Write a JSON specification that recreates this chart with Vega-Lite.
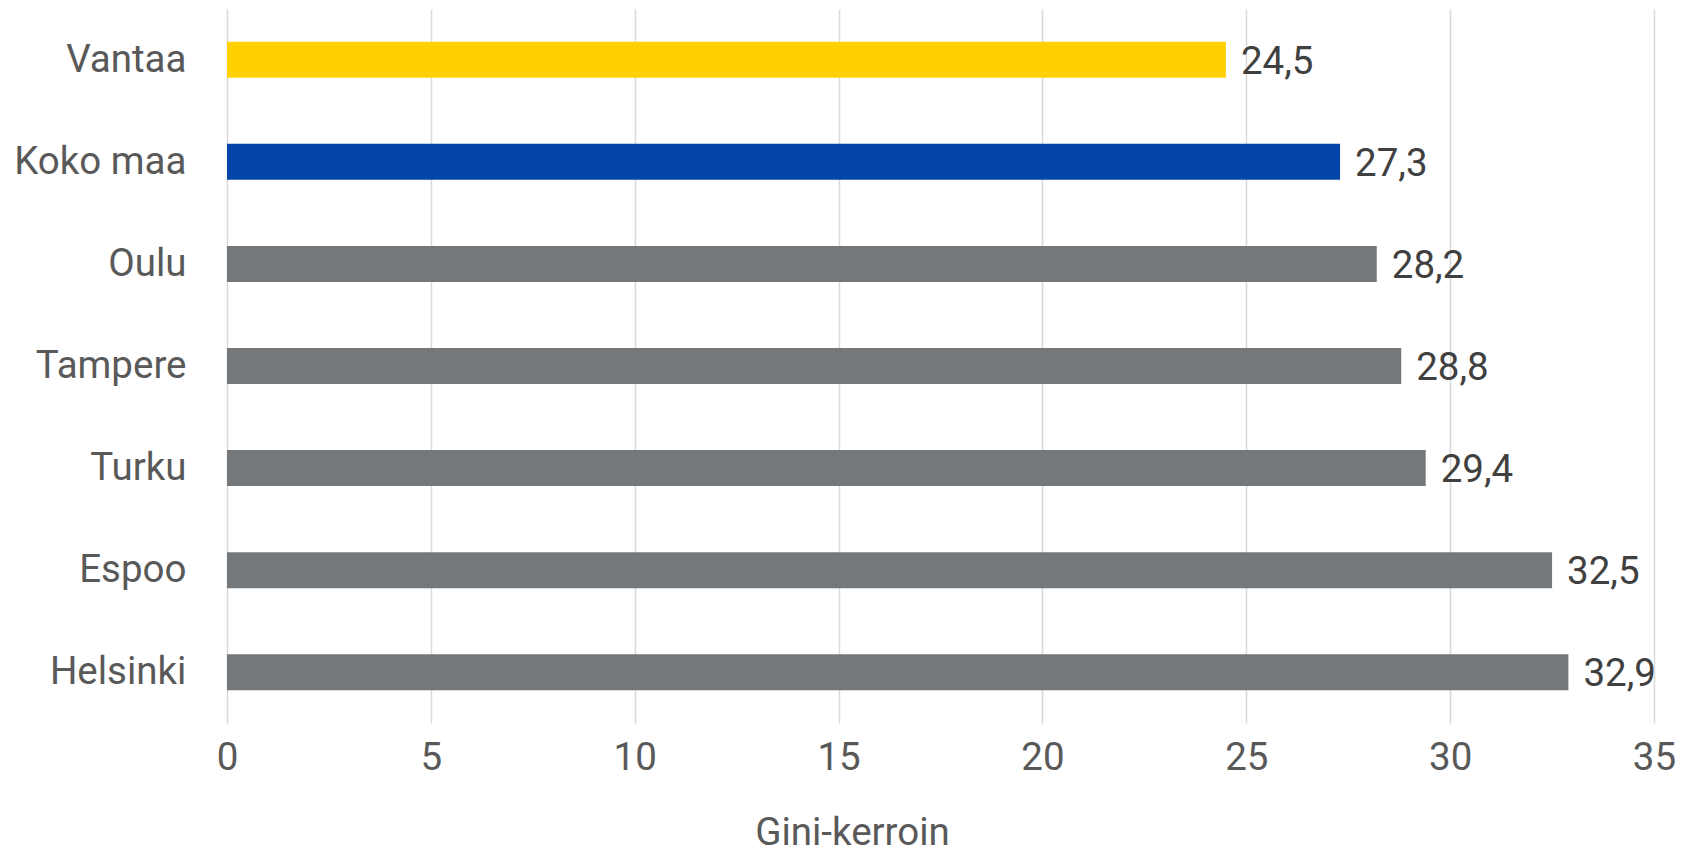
{
  "$schema": "https://vega.github.io/schema/vega-lite/v6.json",
  "autosize": "none",
  "width": 1427,
  "height": 714,
  "padding": {"left": 227, "top": 9, "right": 32, "bottom": 132},
  "background": "white",
  "config": {
    "view": {"stroke": null},
    "font": "Roboto",
    "locale": {
      "number": {"decimal": ",", "thousands": " ", "grouping": [3], "currency": ["", " €"]}
    }
  },
  "data": {
    "values": [
      {"alue": "Vantaa", "gini": 24.5, "ryhma": "Vantaa"},
      {"alue": "Koko maa", "gini": 27.3, "ryhma": "Koko maa"},
      {"alue": "Oulu", "gini": 28.2, "ryhma": "Muu"},
      {"alue": "Tampere", "gini": 28.8, "ryhma": "Muu"},
      {"alue": "Turku", "gini": 29.4, "ryhma": "Muu"},
      {"alue": "Espoo", "gini": 32.5, "ryhma": "Muu"},
      {"alue": "Helsinki", "gini": 32.9, "ryhma": "Muu"}
    ]
  },
  "encoding": {
    "y": {
      "field": "alue",
      "type": "nominal",
      "sort": ["Vantaa", "Koko maa", "Oulu", "Tampere", "Turku", "Espoo", "Helsinki"],
      "scale": {"paddingInner": 0.647, "paddingOuter": 0.32},
      "axis": {
        "title": null,
        "domain": false,
        "ticks": false,
        "labelPadding": 41,
        "labelFontSize": 38.5,
        "labelColor": "#595959",
        "labelFont": "Roboto"
      }
    },
    "x": {
      "field": "gini",
      "type": "quantitative",
      "scale": {"domain": [0, 35], "nice": false},
      "axis": {
        "title": "Gini-kerroin",
        "values": [0, 5, 10, 15, 20, 25, 30, 35],
        "domain": false,
        "ticks": false,
        "grid": true,
        "gridColor": "#d9d9d9",
        "gridWidth": 1.5,
        "labelFlush": false,
        "labelBound": false,
        "labelOverlap": false,
        "labelPadding": 16,
        "labelFontSize": 38.5,
        "labelColor": "#595959",
        "labelFont": "Roboto",
        "titleFontSize": 38.5,
        "titleFontWeight": "normal",
        "titleColor": "#595959",
        "titleFont": "Roboto",
        "titleX": 625,
        "titleY": 121,
        "titleBaseline": "alphabetic"
      }
    }
  },
  "layer": [
    {
      "mark": {"type": "bar"},
      "encoding": {
        "color": {
          "field": "ryhma",
          "type": "nominal",
          "scale": {"domain": ["Vantaa", "Koko maa", "Muu"], "range": ["#ffd100", "#0345a8", "#75787b"]},
          "legend": null
        }
      }
    },
    {
      "mark": {"type": "text", "align": "left", "baseline": "middle", "dx": 15, "dy": 2, "fontSize": 38.5, "color": "#404040", "font": "Roboto"},
      "encoding": {
        "text": {"field": "gini", "type": "quantitative", "format": ".1f"}
      }
    }
  ]
}
